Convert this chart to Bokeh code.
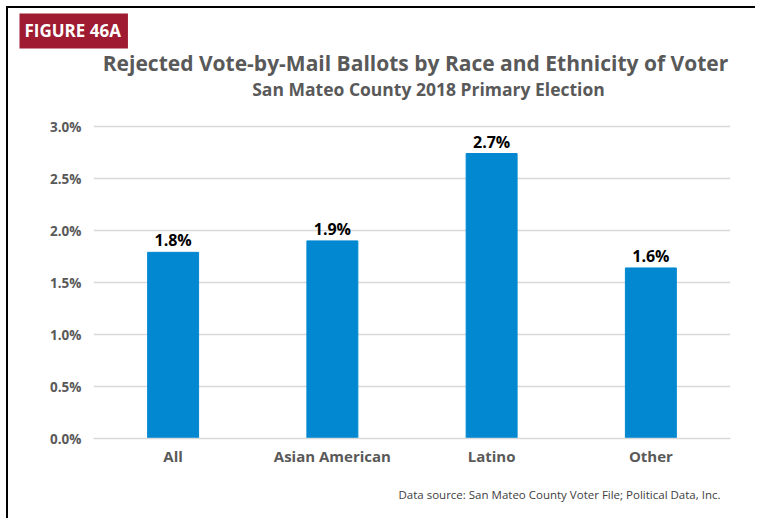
from bokeh.plotting import figure
from bokeh.models import (FactorRange, Range1d, FixedTicker, PrintfTickFormatter,
                          Title, Label, ColumnDataSource)
from bokeh.core.properties import value
from bokeh.embed import file_html
from bokeh.resources import INLINE

categories = ["All", "Asian American", "Latino", "Other"]
rates = [1.79, 1.90, 2.74, 1.64]
rate_labels = ["1.8%", "1.9%", "2.7%", "1.6%"]
y_ticks = [0.0, 0.5, 1.0, 1.5, 2.0, 2.5, 3.0]

title_text = "Rejected Vote-by-Mail Ballots by Race and Ethnicity of Voter"
subtitle_text = "San Mateo County 2018 Primary Election"
figure_tag = "FIGURE 46A"
source_text = "Data source: San Mateo County Voter File; Political Data, Inc."

FONT = "Open Sans"
GRAY = "#595959"
BAR = "#0288D1"
RED = "#9E1B32"

src = ColumnDataSource(dict(cat=categories, rate=rates, lab=rate_labels))

# y range extends above 3.0% so the title block sits inside the (axis-less) frame
p = figure(width=749, height=512, output_backend="svg", toolbar_location=None,
           x_range=FactorRange(*categories, range_padding=0),
           y_range=Range1d(0, 3.75),
           min_border_left=85, min_border_right=27, min_border_top=40,
           min_border_bottom=82)
p.styles = {"margin-left": "6px", "margin-top": "6px",
            "border-left": "2px solid black", "border-top": "2px solid black"}
p.outline_line_color = None
p.background_fill_color = "white"
p.border_fill_color = "white"

p.vbar(x="cat", top="rate", width=0.32, source=src, fill_color=BAR, line_color=BAR)
p.text(x="cat", y="rate", text="lab", source=src, text_align="center",
       text_baseline="bottom", y_offset=-1, text_font=value(FONT),
       text_font_style="bold", text_font_size="16px", text_color="black")

# axes
p.yaxis.ticker = FixedTicker(ticks=y_ticks)
p.yaxis.formatter = PrintfTickFormatter(format="%.1f%%")
p.yaxis.axis_line_color = None
p.yaxis.major_tick_line_color = None
p.yaxis.minor_tick_line_color = None
p.yaxis.major_label_standoff = 6
p.yaxis.major_label_text_font = FONT
p.yaxis.major_label_text_font_style = "bold"
p.yaxis.major_label_text_font_size = "13.5px"
p.yaxis.major_label_text_color = GRAY

p.xaxis.axis_line_color = "#D9D9D9"
p.xaxis.axis_line_width = 1.5
p.xaxis.major_tick_line_color = None
p.xaxis.minor_tick_line_color = None
p.xaxis.major_label_standoff = 1
p.xaxis.major_label_text_font = FONT
p.xaxis.major_label_text_font_style = "bold"
p.xaxis.major_label_text_font_size = "15px"
p.xaxis.major_label_text_color = GRAY

p.xgrid.grid_line_color = None
p.ygrid.grid_line_color = "#D9D9D9"
p.ygrid.grid_line_width = 1.5

# title block (x from frame left, y up from frame bottom)
p.add_layout(Label(x=322, y=376, x_units="screen", y_units="screen", text=title_text,
                   text_align="center", text_baseline="middle", text_font=FONT,
                   text_font_style="bold", text_font_size="21px", text_color=GRAY))
p.add_layout(Label(x=335, y=350, x_units="screen", y_units="screen", text=subtitle_text,
                   text_align="center", text_baseline="middle", text_font=FONT,
                   text_font_style="bold", text_font_size="17.5px", text_color=GRAY))

p.add_layout(Title(text=figure_tag, align="left", offset=-74, standoff=0,
                   text_font=FONT, text_font_style="bold", text_font_size="17px",
                   text_color="white", background_fill_color=RED,
                   padding=(5, 7, 5, 7)), "above")
p.add_layout(Title(text=source_text, align="right", offset=10, standoff=32,
                   text_font=FONT, text_font_style="normal", text_font_size="11.5px",
                   text_color="#404040", text_baseline="middle"), "below")

open("out.html", "w").write(file_html(p, INLINE))
